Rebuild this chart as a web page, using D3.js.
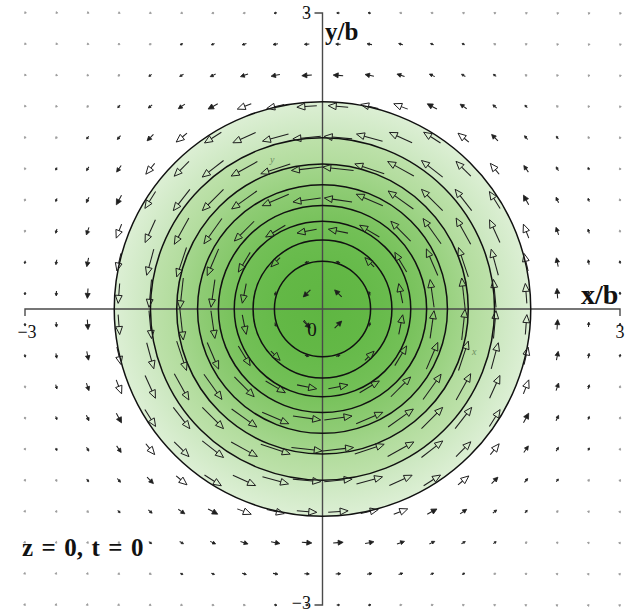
<!DOCTYPE html>
<html>
<head>
<meta charset="utf-8">
<script src="https://cdn.jsdelivr.net/npm/d3@7"></script>
<style>
  html, body { margin: 0; padding: 0; background: #ffffff; }
  svg { display: block; }
</style>
</head>
<body>
<svg id="chart" width="633" height="613"></svg>
<script>
// Axis extent and tick labels
const axisDomain = [-3, 3];
const tickLabels = ["\u22123", "3"];

// Contour radii of the rotating core (in units of b), inner to outer
const contourRadii = [0.485, 0.70, 0.89, 1.05, 1.26, 1.47, 1.735, 2.10];
// Fill shade at the inner and outer edge of each band (centre disk first)
const bandInnerColors = ["#5fb642", "#66ba4a", "#6ebe52", "#78c25c", "#86c86b", "#99d180", "#b2dc9d", "#cbe7bf"];
const bandOuterColors = ["#63b846", "#6abc4e", "#73c057", "#7fc563", "#8fcc75", "#a4d68d", "#bde1aa", "#dcefd4"];

// Grid of the velocity field: 20 x 20 points from -3 to 3
const gridValues = [-3, -2.684, -2.368, -2.053, -1.737, -1.421, -1.105, -0.789, -0.474, -0.158,
                    0.158, 0.474, 0.789, 1.105, 1.421, 1.737, 2.053, 2.368, 2.684, 3];
// Arrow length (in px) for one quadrant; row = |y| index, column = |x| index,
// index 0 is the grid value 0.158 and index 9 is 3
const quadrantSpeed = [
  [10, 4, 20, 28, 31, 28, 20, 10, 5, 3],
  [4, 13, 23, 29, 31, 27, 18, 9, 5, 3],
  [20, 23, 28, 31, 30, 25, 15, 8, 4.5, 2.5],
  [28, 29, 31, 30, 27, 20, 11, 6, 3.5, 2.5],
  [31, 31, 30, 27, 21, 14, 8, 4.5, 3, 2],
  [28, 27, 25, 20, 14, 9, 5, 3.5, 2.5, 2],
  [20, 18, 15, 11, 8, 5, 3.5, 2.5, 2, 1.5],
  [10, 9, 8, 6, 4.5, 3.5, 2.5, 2, 1.5, 1.2],
  [5, 5, 4.5, 3.5, 3, 2.5, 2, 1.5, 1.2, 1.2],
  [3, 3, 2.5, 2.5, 2, 2, 1.5, 1.2, 1.2, 1.2]
];

const svg = d3.select("#chart");
const x = d3.scaleLinear().domain(axisDomain).range([25, 620]);
const y = d3.scaleLinear().domain(axisDomain).range([605, 13]);
const cx = x(0), cy = y(0);
const rx = r => x(r) - x(0);
const ry = r => y(0) - y(r);

// ---- filled contour bands as one radial gradient with hard steps ----
const outerR = contourRadii[contourRadii.length - 1];
const defs = svg.append("defs");
const grad = defs.append("radialGradient")
  .attr("id", "bands")
  .attr("cx", 0.5).attr("cy", 0.5).attr("r", 0.5);
let prev = 0;
contourRadii.forEach((r, i) => {
  grad.append("stop").attr("offset", prev / outerR).attr("stop-color", bandInnerColors[i]);
  grad.append("stop").attr("offset", r / outerR).attr("stop-color", bandOuterColors[i]);
  prev = r;
});
svg.append("ellipse")
  .attr("cx", cx).attr("cy", cy)
  .attr("rx", rx(outerR)).attr("ry", ry(outerR))
  .attr("fill", "url(#bands)");

// ---- axes ----
const axisG = svg.append("g").attr("stroke", "#4a4a4a").attr("stroke-width", 1.4).attr("fill", "none");
axisG.append("path").attr("d", `M${x(-3)},${y(0) + 7}V${y(0)}H${x(3)}V${y(0) + 7}`);
axisG.append("path").attr("d", `M${x(0) - 8},${y(3)}H${x(0)}V${y(-3)}H${x(0) - 8}`);

// ---- contour lines ----
svg.append("g")
  .selectAll("ellipse")
  .data(contourRadii)
  .join("ellipse")
  .attr("cx", cx).attr("cy", cy)
  .attr("rx", d => rx(d)).attr("ry", d => ry(d))
  .attr("fill", "none")
  .attr("stroke", "#111")
  .attr("stroke-width", 1.5);

// ---- velocity field: tangential arrows centred on grid points ----
const arrows = [];
gridValues.forEach((gy, iy) => {
  gridValues.forEach((gx, ix) => {
    const qi = Math.abs(iy - 9.5) - 0.5;
    const qj = Math.abs(ix - 9.5) - 0.5;
    arrows.push({ gx, gy, len: quadrantSpeed[qi][qj] });
  });
});

const arrowG = svg.append("g");
arrows.forEach(a => {
  const px = x(a.gx), py = y(a.gy);
  // counter-clockwise rotation: direction (-y, x) in data space
  const r = Math.hypot(a.gx, a.gy);
  const ux = -a.gy / r, uy = -a.gx / r; // screen space (y flipped)
  const L = a.len;
  const x0 = px - ux * L / 2, y0 = py - uy * L / 2;
  const x1 = px + ux * L / 2, y1 = py + uy * L / 2;
  const big = L > 11;
  const hl = big ? 8 : Math.max(1.6, L * 0.5);
  const hw = big ? 3.4 : Math.max(1, L * 0.25);
  const bx = x1 - ux * hl, by = y1 - uy * hl;
  const nx = -uy, ny = ux;
  const col = L < 3 ? "#9a9a9a" : "#1e1e1e";
  arrowG.append("line")
    .attr("x1", x0).attr("y1", y0).attr("x2", bx).attr("y2", by)
    .attr("stroke", col).attr("stroke-width", L < 3 ? 1.3 : 1.05);
  arrowG.append("path")
    .attr("d", `M${x1},${y1}L${bx + nx * hw},${by + ny * hw}L${bx - nx * hw},${by - ny * hw}Z`)
    .attr("fill", big ? "none" : col)
    .attr("stroke", col)
    .attr("stroke-width", big ? 1 : 0.8)
    .attr("stroke-linejoin", "miter");
});

// ---- labels ----
const serif = "'Liberation Serif', 'Times New Roman', serif";
const txt = svg.append("g").attr("font-family", serif).attr("fill", "#111");
txt.append("text").attr("x", 311).attr("y", 19).attr("text-anchor", "end").attr("font-size", 18).text(tickLabels[1]);
txt.append("text").attr("x", 311).attr("y", 609).attr("text-anchor", "end").attr("font-size", 18).text(tickLabels[0]);
txt.append("text").attr("x", 27).attr("y", 338).attr("text-anchor", "middle").attr("font-size", 18).text(tickLabels[0]);
txt.append("text").attr("x", 620).attr("y", 338).attr("text-anchor", "middle").attr("font-size", 18).text(tickLabels[1]);
txt.append("text").attr("x", 325).attr("y", 40).attr("font-size", 25).attr("font-weight", "bold").text("y/b");
txt.append("text").attr("x", 581).attr("y", 304).attr("font-size", 28).attr("font-weight", "bold").text("x/b");
txt.append("text").attr("x", 22).attr("y", 556).attr("font-size", 25).attr("font-weight", "bold")
  .attr("word-spacing", 2.2).text("z = 0, t = 0");

// contour value label at the centre
svg.append("line").attr("x1", 304).attr("y1", 320).attr("x2", 308).attr("y2", 325)
  .attr("stroke", "#222").attr("stroke-width", 1);
txt.append("text").attr("x", 312).attr("y", 336).attr("text-anchor", "middle").attr("font-size", 19).text("0");
// faint component labels
txt.append("text").attr("x", 270).attr("y", 163).attr("font-size", 10).attr("font-style", "italic")
  .attr("fill", "#6f8f62").text("y");
txt.append("text").attr("x", 472).attr("y", 355).attr("font-size", 10).attr("font-style", "italic")
  .attr("fill", "#6f8f62").text("x");
</script>
</body>
</html>
